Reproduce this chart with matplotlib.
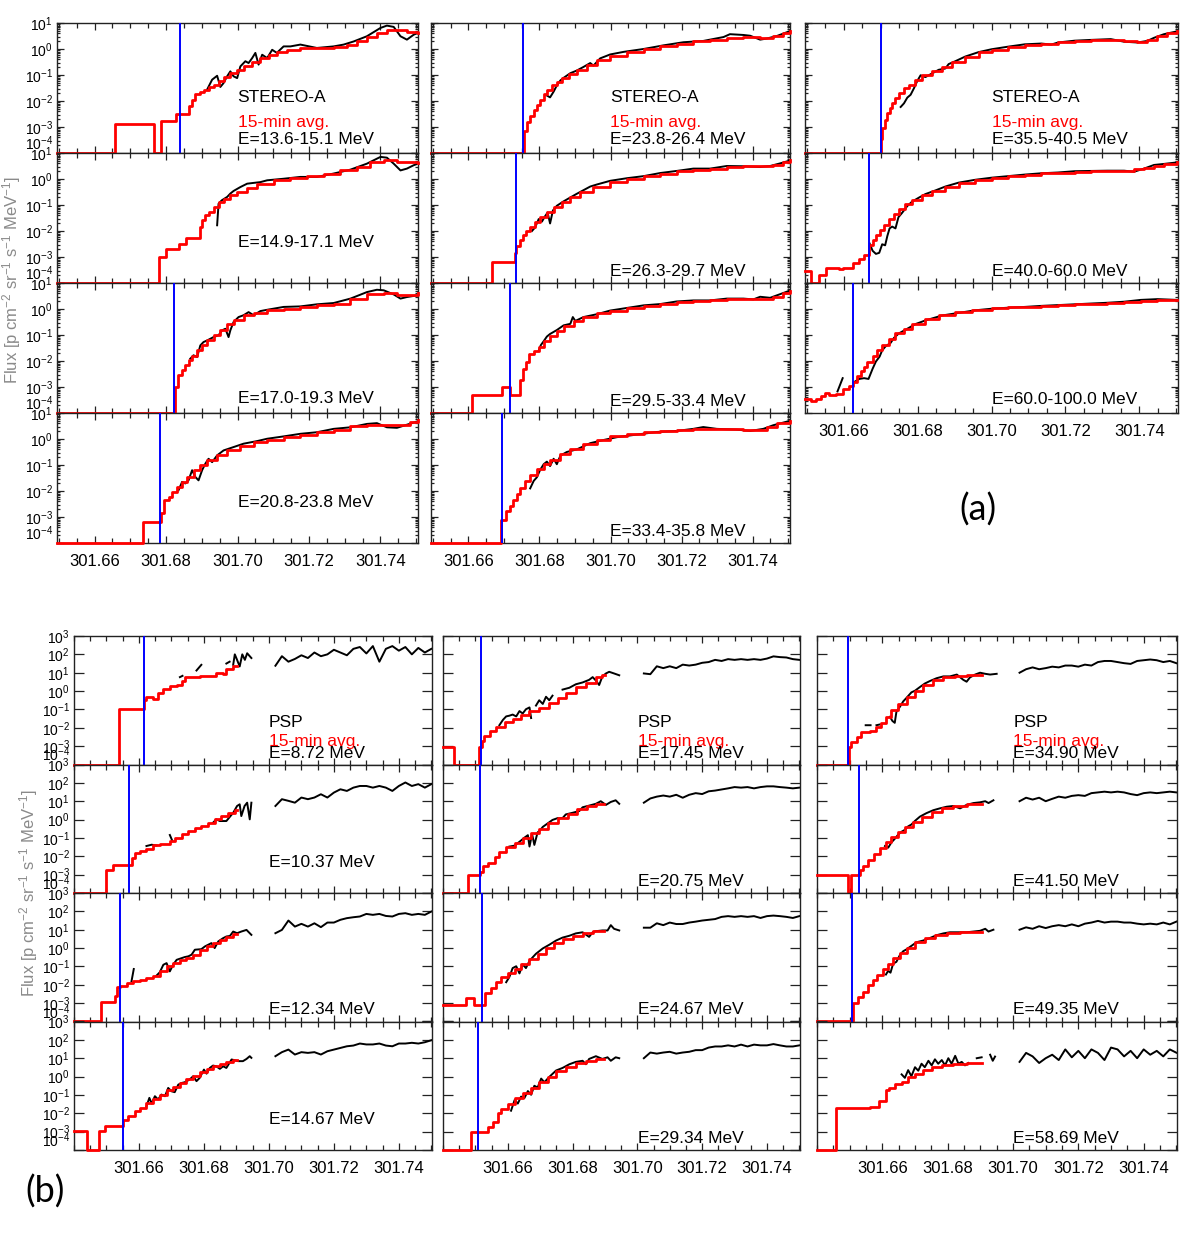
import numpy as np
import matplotlib
matplotlib.use("Agg")
import matplotlib.pyplot as plt
from matplotlib.ticker import (FixedLocator, MultipleLocator, FormatStrFormatter,
                               NullLocator, LogLocator, LogFormatterSciNotation)

plt.rcParams['font.family'] = ['Liberation Sans', 'DejaVu Sans']
plt.rcParams['mathtext.fontset'] = 'custom'
plt.rcParams['mathtext.rm'] = 'Liberation Sans'
plt.rcParams['mathtext.it'] = 'Liberation Sans:italic'
plt.rcParams['mathtext.bf'] = 'Liberation Sans:bold'

nan = np.nan

##################################################
# STEREO-A panels (a): time in DOY, flux as log10
##################################################
sta1_red_t = [301.6495, 301.6658, 301.6765, 301.6787, 301.6828, 301.6865, 301.6873, 301.6882, 301.6894, 301.6907, 301.6921, 301.6935, 301.6949, 301.6963, 301.6980, 301.6999, 301.7017, 301.7041, 301.7064, 301.7087, 301.7111, 301.7139, 301.7176, 301.7222, 301.7269, 301.7306, 301.7334, 301.7362, 301.7390, 301.7418, 301.7446, 301.7474, 301.7505]
sta1_red_v = [-4, -2.87, -4, -2.78, -2.5, -2.2, -1.95, -1.73, -1.65, -1.56, -1.46, -1.37, -1.22, -1.08, -0.92, -0.8, -0.67, -0.5, -0.35, -0.22, -0.12, -0.04, 0.03, 0.05, 0.08, 0.15, 0.3, 0.45, 0.62, 0.74, 0.72, 0.66, 0.62]
sta1_blk_t = [301.6915, 301.6929, 301.6943, 301.6952, 301.6961, 301.6971, 301.6980, 301.6989, 301.6999, 301.7008, 301.7022, 301.7031, 301.7041, 301.7050, 301.7059, 301.7069, 301.7083, 301.7097, 301.7110, 301.7129, 301.7148, 301.7176, 301.7222, 301.7269, 301.7297, 301.7325, 301.7362, 301.7400, 301.7418, 301.7437, 301.7456, 301.7474, 301.7493, 301.7505]
sta1_blk_v = [-1.56, -1.18, -1.03, -1.46, -1.31, -1.05, -0.86, -1.05, -1.12, -0.67, -0.47, -0.54, -0.35, -0.15, -0.6, -0.22, -0.35, -0.03, -0.15, 0.1, 0.1, 0.17, 0.04, 0.1, 0.17, 0.29, 0.49, 0.81, 0.9, 0.85, 0.49, 0.36, 0.55, 0.62]

sta2_red_t = [301.6495, 301.6779, 301.6800, 301.6835, 301.6855, 301.6894, 301.6902, 301.6910, 301.6919, 301.6933, 301.6947, 301.6961, 301.6980, 301.6999, 301.7027, 301.7055, 301.7101, 301.7148, 301.7194, 301.7241, 301.7288, 301.7334, 301.7372, 301.7409, 301.7446, 301.7505]
sta2_red_v = [-4, -3.0, -2.68, -2.51, -2.26, -1.85, -1.59, -1.4, -1.27, -1.08, -0.88, -0.76, -0.63, -0.5, -0.33, -0.18, -0.05, 0.05, 0.1, 0.21, 0.33, 0.46, 0.65, 0.74, 0.65, 0.63]
sta2_blk_t = [301.6943, 301.6947, 301.6956, 301.6971, 301.6980, 301.6989, 301.7008, 301.7027, 301.7045, 301.7064, 301.7083, 301.7129, 301.7176, 301.7222, 301.7269, 301.7316, 301.7362, 301.7400, 301.7418, 301.7437, 301.7456, 301.7474, 301.7493, 301.7505]
sta2_blk_v = [-1.78, -0.95, -0.82, -0.69, -0.56, -0.46, -0.31, -0.18, -0.15, -0.12, -0.05, 0.01, 0.08, 0.08, 0.21, 0.36, 0.59, 0.85, 0.82, 0.59, 0.33, 0.4, 0.53, 0.59]

sta3_red_t = [301.6495, 301.6826, 301.6834, 301.6845, 301.6854, 301.6863, 301.6873, 301.6887, 301.6901, 301.6915, 301.6933, 301.6952, 301.6971, 301.6989, 301.7017, 301.7045, 301.7083, 301.7129, 301.7176, 301.7222, 301.7269, 301.7316, 301.7362, 301.7409, 301.7446, 301.7505]
sta3_red_v = [-4, -3.0, -2.55, -2.36, -2.17, -1.97, -1.82, -1.59, -1.4, -1.2, -1.01, -0.82, -0.56, -0.41, -0.24, -0.14, -0.05, 0.01, 0.08, 0.14, 0.2, 0.4, 0.59, 0.63, 0.53, 0.62]
sta3_blk_t = [301.6868, 301.6877, 301.6887, 301.6896, 301.6905, 301.6915, 301.6933, 301.6947, 301.6957, 301.6966, 301.6975, 301.6980, 301.6989, 301.7003, 301.7017, 301.7031, 301.7045, 301.7064, 301.7083, 301.7129, 301.7176, 301.7222, 301.7269, 301.7316, 301.7362, 301.7390, 301.7409, 301.7437, 301.7456, 301.7474, 301.7505]
sta3_blk_v = [-1.91, -1.78, -1.85, -1.4, -1.27, -1.21, -1.08, -1.01, -0.82, -0.76, -1.08, -0.82, -0.5, -0.31, -0.24, -0.12, -0.24, -0.08, -0.03, 0.08, 0.1, 0.18, 0.23, 0.4, 0.65, 0.74, 0.72, 0.56, 0.4, 0.46, 0.53]

sta4_red_t = [301.6495, 301.6737, 301.6786, 301.6795, 301.6807, 301.6817, 301.6831, 301.6845, 301.6859, 301.6877, 301.6896, 301.6915, 301.6943, 301.6971, 301.7008, 301.7045, 301.7083, 301.7129, 301.7176, 301.7222, 301.7269, 301.7316, 301.7362, 301.7409, 301.7456, 301.7484, 301.7505]
sta4_red_v = [-4, -3.18, -2.86, -2.35, -2.22, -2.03, -1.84, -1.65, -1.46, -1.2, -1.01, -0.82, -0.63, -0.44, -0.25, -0.12, -0.03, 0.07, 0.17, 0.26, 0.36, 0.49, 0.55, 0.52, 0.52, 0.64, 0.73]
sta4_blk_t = [301.6835, 301.6845, 301.6854, 301.6863, 301.6873, 301.6882, 301.6891, 301.6901, 301.6910, 301.6919, 301.6929, 301.6943, 301.6961, 301.6989, 301.7017, 301.7055, 301.7083, 301.7129, 301.7176, 301.7222, 301.7269, 301.7316, 301.7362, 301.7390, 301.7418, 301.7446, 301.7474, 301.7505]
sta4_blk_v = [-1.97, -1.65, -1.71, -1.59, -1.2, -1.46, -1.59, -1.2, -0.95, -0.76, -0.89, -0.63, -0.44, -0.31, -0.18, -0.08, 0.01, 0.1, 0.2, 0.26, 0.39, 0.45, 0.58, 0.61, 0.45, 0.43, 0.55, 0.68]

sta5_red_t = [301.6495, 301.6757, 301.6765, 301.6774, 301.6784, 301.6793, 301.6802, 301.6812, 301.6821, 301.6835, 301.6849, 301.6863, 301.6882, 301.6905, 301.6933, 301.6962, 301.6999, 301.7046, 301.7093, 301.7140, 301.7186, 301.7233, 301.7280, 301.7327, 301.7374, 301.7421, 301.7458, 301.7486, 301.7505]
sta5_red_v = [-4, -3.14, -2.79, -2.57, -2.36, -2.14, -1.97, -1.74, -1.57, -1.4, -1.26, -1.11, -0.97, -0.79, -0.61, -0.43, -0.26, -0.11, 0.0, 0.1, 0.21, 0.29, 0.36, 0.43, 0.46, 0.43, 0.5, 0.6, 0.71]
sta5_blk_t = [301.6821, 301.6830, 301.6840, 301.6849, 301.6859, 301.6868, 301.6887, 301.6905, 301.6924, 301.6943, 301.6952, 301.6971, 301.6999, 301.7037, 301.7093, 301.7149, 301.7205, 301.7261, 301.7318, 301.7336, 301.7374, 301.7393, 301.7421, 301.7439, 301.7468, 301.7505]
sta5_blk_v = [-1.79, -1.86, -1.64, -1.4, -1.21, -1.11, -0.93, -0.83, -0.69, -0.54, -0.64, -0.36, -0.21, -0.11, 0.0, 0.14, 0.26, 0.31, 0.46, 0.57, 0.54, 0.51, 0.36, 0.4, 0.5, 0.69]

sta6_red_t = [301.6495, 301.6666, 301.6730, 301.6735, 301.6744, 301.6754, 301.6763, 301.6774, 301.6788, 301.6802, 301.6821, 301.6840, 301.6863, 301.6887, 301.6915, 301.6952, 301.6999, 301.7046, 301.7093, 301.7140, 301.7186, 301.7233, 301.7280, 301.7327, 301.7374, 301.7458, 301.7486, 301.7505]
sta6_red_v = [-4, -3.21, -2.86, -2.57, -2.36, -2.17, -2.0, -1.83, -1.64, -1.46, -1.26, -1.07, -0.9, -0.71, -0.5, -0.31, -0.11, 0.0, 0.11, 0.21, 0.29, 0.34, 0.4, 0.46, 0.5, 0.54, 0.64, 0.74]
sta6_blk_t = [301.6779, 301.6788, 301.6798, 301.6807, 301.6816, 301.6823, 301.6830, 301.6838, 301.6849, 301.6868, 301.6887, 301.6905, 301.6924, 301.6943, 301.6962, 301.6999, 301.7046, 301.7093, 301.7140, 301.7186, 301.7233, 301.7280, 301.7327, 301.7374, 301.7421, 301.7449, 301.7477, 301.7505]
sta6_blk_v = [-2.0, -1.86, -1.54, -1.64, -1.43, -1.29, -1.71, -1.21, -1.03, -0.86, -0.71, -0.57, -0.43, -0.29, -0.21, -0.07, 0.03, 0.11, 0.23, 0.31, 0.4, 0.4, 0.5, 0.49, 0.46, 0.5, 0.6, 0.71]

sta7_red_t = [301.6495, 301.6610, 301.6695, 301.6716, 301.6744, 301.6754, 301.6763, 301.6770, 301.6784, 301.6798, 301.6812, 301.6830, 301.6849, 301.6868, 301.6896, 301.6924, 301.6962, 301.6999, 301.7046, 301.7093, 301.7140, 301.7186, 301.7233, 301.7280, 301.7327, 301.7374, 301.7458, 301.7486, 301.7505]
sta7_red_v = [-4, -3.31, -3.0, -3.29, -2.74, -2.31, -2.03, -1.74, -1.6, -1.46, -1.24, -1.03, -0.86, -0.67, -0.46, -0.31, -0.17, -0.06, 0.03, 0.11, 0.19, 0.26, 0.29, 0.33, 0.37, 0.4, 0.47, 0.61, 0.71]
sta7_blk_t = [301.6798, 301.6804, 301.6812, 301.6821, 301.6830, 301.6849, 301.6868, 301.6887, 301.6894, 301.6901, 301.6924, 301.6962, 301.6999, 301.7046, 301.7093, 301.7140, 301.7186, 301.7233, 301.7280, 301.7327, 301.7374, 301.7402, 301.7421, 301.7449, 301.7477, 301.7505]
sta7_blk_v = [-1.6, -1.39, -1.24, -1.06, -0.96, -0.81, -0.63, -0.57, -0.31, -0.46, -0.31, -0.2, -0.06, 0.04, 0.14, 0.19, 0.29, 0.33, 0.33, 0.4, 0.4, 0.37, 0.47, 0.43, 0.57, 0.71]

sta8_red_t = [301.6495, 301.6693, 301.6707, 301.6718, 301.6727, 301.6737, 301.6746, 301.6760, 301.6774, 301.6793, 301.6812, 301.6830, 301.6859, 301.6887, 301.6924, 301.6962, 301.6999, 301.7046, 301.7093, 301.7140, 301.7186, 301.7233, 301.7374, 301.7439, 301.7468, 301.7505]
sta8_red_v = [-4, -3.11, -2.76, -2.59, -2.33, -2.11, -1.87, -1.61, -1.4, -1.16, -0.97, -0.79, -0.59, -0.4, -0.19, -0.04, 0.1, 0.21, 0.27, 0.31, 0.34, 0.39, 0.36, 0.46, 0.6, 0.7]
sta8_blk_t = [301.6774, 301.6784, 301.6793, 301.6802, 301.6812, 301.6821, 301.6830, 301.6840, 301.6849, 301.6859, 301.6877, 301.6905, 301.6943, 301.6980, 301.7018, 301.7074, 301.7130, 301.7186, 301.7233, 301.7261, 301.7299, 301.7355, 301.7393, 301.7430, 301.7458, 301.7505]
sta8_blk_v = [-1.9, -1.61, -1.47, -1.19, -0.97, -0.87, -1.04, -0.76, -0.97, -0.64, -0.5, -0.4, -0.16, -0.04, 0.07, 0.17, 0.27, 0.31, 0.39, 0.46, 0.39, 0.36, 0.31, 0.39, 0.53, 0.7]

sta9_red_t = [301.6495, 301.6700, 301.6704, 301.6712, 301.6718, 301.6724, 301.6731, 301.6740, 301.6749, 301.6763, 301.6776, 301.6794, 301.6812, 301.6839, 301.6866, 301.6893, 301.6929, 301.6965, 301.7000, 301.7045, 301.7090, 301.7135, 301.7180, 301.7225, 301.7269, 301.7359, 301.7395, 301.7422, 301.7449, 301.7476, 301.7503]
sta9_red_v = [-4, -3.45, -3.02, -2.74, -2.45, -2.28, -2.09, -1.9, -1.7, -1.51, -1.37, -1.18, -1.01, -0.84, -0.7, -0.51, -0.29, -0.12, -0.03, 0.07, 0.17, 0.21, 0.28, 0.31, 0.35, 0.31, 0.28, 0.35, 0.5, 0.6, 0.68]
sta9_blk_t = [301.6754, 301.6763, 301.6772, 301.6781, 301.6790, 301.6799, 301.6808, 301.6821, 301.6839, 301.6857, 301.6875, 301.6884, 301.6902, 301.6929, 301.6965, 301.7000, 301.7045, 301.7090, 301.7135, 301.7162, 301.7180, 301.7225, 301.7269, 301.7323, 301.7359, 301.7395, 301.7422, 301.7440, 301.7467, 301.7503]
sta9_blk_v = [-2.23, -2.09, -1.87, -1.76, -1.51, -1.23, -1.01, -1.08, -0.94, -0.8, -0.75, -0.58, -0.47, -0.29, -0.12, -0.01, 0.09, 0.18, 0.21, 0.17, 0.25, 0.32, 0.35, 0.38, 0.28, 0.25, 0.31, 0.43, 0.57, 0.68]

sta10_red_t = [301.6495, 301.6512, 301.6534, 301.6552, 301.6588, 301.6597, 301.6624, 301.6642, 301.6655, 301.6667, 301.6678, 301.6687, 301.6697, 301.6709, 301.6722, 301.6736, 301.6749, 301.6767, 301.6785, 301.6812, 301.6839, 301.6875, 301.6911, 301.6956, 301.7000, 301.7045, 301.7090, 301.7135, 301.7180, 301.7225, 301.7269, 301.7314, 301.7386, 301.7413, 301.7440, 301.7467, 301.7503]
sta10_red_v = [-3.55, -4, -3.7, -3.41, -3.48, -3.41, -3.22, -3.08, -2.91, -2.55, -2.33, -2.16, -1.97, -1.76, -1.54, -1.33, -1.16, -0.97, -0.82, -0.61, -0.47, -0.29, -0.15, -0.03, 0.04, 0.11, 0.17, 0.22, 0.25, 0.28, 0.31, 0.32, 0.37, 0.43, 0.51, 0.57, 0.64]
sta10_blk_t = [301.6670, 301.6678, 301.6687, 301.6696, 301.6704, 301.6712, 301.6718, 301.6724, 301.6731, 301.6740, 301.6748, 301.6758, 301.6772, 301.6785, 301.6803, 301.6821, 301.6848, 301.6875, 301.6911, 301.6956, 301.7000, 301.7045, 301.7090, 301.7135, 301.7180, 301.7225, 301.7269, 301.7314, 301.7359, 301.7386, 301.7413, 301.7440, 301.7467, 301.7503]
sta10_blk_v = [-2.48, -2.76, -2.88, -2.84, -2.51, -2.55, -2.19, -1.9, -1.83, -1.9, -1.47, -1.3, -1.04, -0.87, -0.72, -0.58, -0.44, -0.29, -0.14, -0.03, 0.05, 0.11, 0.17, 0.22, 0.25, 0.3, 0.31, 0.32, 0.32, 0.28, 0.4, 0.54, 0.58, 0.64]

sta11_red_t = [301.6495, 301.6512, 301.6525, 301.6539, 301.6548, 301.6561, 301.6579, 301.6597, 301.6615, 301.6626, 301.6637, 301.6646, 301.6655, 301.6664, 301.6678, 301.6691, 301.6704, 301.6722, 301.6740, 301.6763, 301.6785, 301.6821, 301.6857, 301.6902, 301.6947, 301.7000, 301.7045, 301.7090, 301.7135, 301.7180, 301.7225, 301.7269, 301.7314, 301.7359, 301.7404, 301.7449, 301.7503]
sta11_red_v = [-3.45, -3.53, -3.45, -3.35, -3.24, -3.31, -3.27, -3.09, -2.95, -2.81, -2.59, -2.38, -2.23, -2.02, -1.8, -1.59, -1.37, -1.16, -0.94, -0.77, -0.58, -0.39, -0.25, -0.12, -0.05, 0.02, 0.07, 0.09, 0.12, 0.15, 0.18, 0.21, 0.24, 0.28, 0.32, 0.35, 0.35]
sta11_blk_t = [301.6583, 301.6597, nan, 301.6628, 301.6642, 301.6655, 301.6667, 301.6678, 301.6687, 301.6697, 301.6704, 301.6713, 301.6727, 301.6736, 301.6749, 301.6767, 301.6794, 301.6821, 301.6866, 301.6911, 301.6956, 301.7000, 301.7045, 301.7090, 301.7135, 301.7180, 301.7225, 301.7269, 301.7314, 301.7359, 301.7404, 301.7449, 301.7503]
sta11_blk_v = [-3.17, -2.66, nan, -2.81, -2.69, -2.66, -2.69, -2.3, -2.02, -1.83, -1.59, -1.44, -1.3, -1.11, -0.94, -0.8, -0.58, -0.44, -0.25, -0.15, -0.05, 0.01, 0.05, 0.08, 0.12, 0.15, 0.18, 0.21, 0.24, 0.28, 0.35, 0.38, 0.35]

sta_onset = [301.6838, None, 301.6823, 301.6784, 301.6754, 301.6733, 301.6718, 301.6696, 301.6702, 301.6669, 301.6626]
sta_energy = ['13.6-15.1', '14.9-17.1', '17.0-19.3', '20.8-23.8', '23.8-26.4', '26.3-29.7',
              '29.5-33.4', '33.4-35.8', '35.5-40.5', '40.0-60.0', '60.0-100.0']

##################################################
# PSP panels (b)
##################################################
psp_late_t = np.linspace(301.702, 301.750, 25)

psp1_red_t = [301.6400, 301.6539, 301.6615, 301.6623, 301.6644, 301.6659, 301.6675, 301.6695, 301.6716, 301.6731, 301.6741, 301.6762, 301.6787, 301.6808, 301.6838, 301.6859, 301.6869, 301.6890, 301.6902]
psp1_red_v = [-4, -1.0, -0.47, -0.32, -0.43, -0.1, 0.11, 0.26, 0.35, 0.56, 0.74, 0.76, 0.83, 0.83, 0.98, 0.94, 1.19, 1.34, 1.34]
psp1_blk_t = [301.6726, 301.6734, nan, 301.6777, 301.6792, nan, 301.6869, 301.6879, nan, 301.6890, 301.6895, 301.6902, 301.6910, 301.6918, 301.6926, 301.6933, 301.6941, 301.6946]
psp1_blk_v = [0.76, 0.83, nan, 1.12, 1.43, nan, 1.5, 1.6, nan, 1.43, 2.0, 1.7, 1.34, 2.0, 1.7, 2.06, 1.9, 1.8]
psp1_late_v = [1.38, 1.9, 1.6, 1.75, 1.95, 1.8, 2.1, 1.9, 2.0, 2.25, 2.1, 1.95, 2.3, 2.4, 2.05, 2.45, 1.6, 2.3, 2.45, 2.2, 2.4, 2.0, 2.35, 2.1, 2.3]

psp2_red_t = [301.6400, 301.6500, 301.6521, 301.6570, 301.6577, 301.6587, 301.6603, 301.6623, 301.6644, 301.6664, 301.6695, 301.6710, 301.6731, 301.6751, 301.6772, 301.6792, 301.6813, 301.6833, 301.6854, 301.6874, 301.6895, 301.6902]
psp2_red_v = [-4, -2.76, -2.48, -2.45, -2.08, -1.81, -1.72, -1.63, -1.41, -1.35, -1.17, -0.99, -0.81, -0.62, -0.48, -0.35, -0.17, 0.01, 0.19, 0.37, 0.52, 0.52]
psp2_blk_t = [301.6623, 301.6639, 301.6654, nan, 301.6695, 301.6703, nan, 301.6828, 301.6838, 301.6849, 301.6869, 301.6890, 301.6902, 301.6910, 301.6915, 301.6925, 301.6933, 301.6941, 301.6946]
psp2_blk_v = [-1.44, -1.37, -1.41, nan, -0.84, -1.17, nan, -0.17, 0.01, -0.08, -0.08, 0.37, 0.74, 0.83, 0.19, 0.74, 0.92, 0.01, 0.92]
psp2_late_v = [0.74, 1.11, 1.02, 0.92, 1.2, 1.11, 1.2, 1.38, 1.2, 1.47, 1.65, 1.56, 1.74, 1.83, 1.83, 1.74, 1.83, 1.74, 1.56, 1.83, 2.02, 1.83, 1.93, 1.74, 1.93]

psp3_red_t = [301.6400, 301.6482, 301.6526, 301.6531, 301.6541, 301.6562, 301.6582, 301.6603, 301.6623, 301.6644, 301.6664, 301.6685, 301.6705, 301.6726, 301.6746, 301.6767, 301.6787, 301.6808, 301.6828, 301.6849, 301.6869, 301.6890, 301.6902]
psp3_red_v = [-4, -2.93, -2.61, -2.11, -2.05, -1.9, -1.81, -1.72, -1.63, -1.5, -1.27, -1.0, -0.82, -0.64, -0.55, -0.36, -0.09, 0.09, 0.27, 0.45, 0.63, 0.77, 0.77]
psp3_blk_t = [301.6577, 301.6584, nan, 301.6654, 301.6664, 301.6675, 301.6685, 301.6695, 301.6705, 301.6716, 301.6731, 301.6741, 301.6752, 301.6762, 301.6772, 301.6792, 301.6803, 301.6813, 301.6823, 301.6833, 301.6844, 301.6859, 301.6869, 301.6880, 301.6890, 301.6902, 301.6915, 301.6931, 301.6941, 301.6946]
psp3_blk_v = [-1.81, -1.14, nan, -1.5, -1.32, -0.91, -0.82, -1.27, -0.91, -0.64, -0.55, -0.49, -0.45, -0.36, -0.09, -0.06, 0.09, 0.18, 0.27, 0.0, 0.36, 0.54, 0.63, 0.66, 0.9, 0.81, 0.9, 0.99, 0.81, 0.72]
psp3_late_v = [0.81, 0.99, 1.5, 1.17, 1.32, 1.17, 1.35, 1.14, 1.39, 1.39, 1.54, 1.63, 1.68, 1.72, 1.86, 1.81, 1.86, 1.75, 1.72, 1.86, 1.9, 1.81, 1.86, 1.81, 1.99]

psp4_red_t = [301.6400, 301.6441, 301.6477, 301.6495, 301.6550, 301.6567, 301.6587, 301.6603, 301.6623, 301.6644, 301.6664, 301.6685, 301.6705, 301.6726, 301.6746, 301.6767, 301.6787, 301.6808, 301.6828, 301.6849, 301.6869, 301.6890, 301.6902]
psp4_red_v = [-2.98, -4, -2.98, -2.67, -2.35, -2.16, -1.89, -1.71, -1.44, -1.22, -0.98, -0.75, -0.56, -0.35, -0.13, 0.05, 0.24, 0.42, 0.56, 0.69, 0.8, 0.89, 0.89]
psp4_blk_t = [301.6623, 301.6632, 301.6639, 301.6649, 301.6659, 301.6669, 301.6680, 301.6690, 301.6700, 301.6710, 301.6721, 301.6731, 301.6741, 301.6756, 301.6767, 301.6777, 301.6787, 301.6800, 301.6808, 301.6818, 301.6828, 301.6838, 301.6849, 301.6859, 301.6869, 301.6885, 301.6895, 301.6905, 301.6920, 301.6931, 301.6941, 301.6946]
psp4_blk_v = [-1.62, -1.16, -1.47, -1.07, -1.25, -0.98, -1.07, -0.62, -0.8, -0.85, -0.44, -0.35, -0.31, -0.16, 0.02, -0.25, -0.07, 0.38, 0.16, 0.47, 0.6, 0.56, 0.42, 0.56, 0.47, 0.93, 0.89, 0.84, 0.84, 0.96, 1.11, 1.02]
psp4_late_v = [1.11, 1.33, 1.47, 1.2, 1.33, 1.29, 1.33, 1.2, 1.38, 1.47, 1.56, 1.65, 1.69, 1.8, 1.75, 1.75, 1.8, 1.69, 1.65, 1.8, 1.8, 1.84, 1.8, 1.87, 1.98]

psp5_red_t = [301.6400, 301.6433, 301.6511, 301.6520, 301.6528, 301.6544, 301.6564, 301.6590, 301.6615, 301.6641, 301.6667, 301.6697, 301.6728, 301.6754, 301.6779, 301.6810, 301.6841, 301.6872, 301.6890, 301.6900]
psp5_red_v = [-3.03, -4, -3.03, -2.74, -2.45, -2.16, -1.96, -1.7, -1.5, -1.3, -1.1, -0.9, -0.65, -0.4, -0.1, 0.2, 0.45, 0.76, 0.86, 0.86]
psp5_blk_t = [301.6574, 301.6585, 301.6595, 301.6605, 301.6615, 301.6626, 301.6636, 301.6646, 301.6656, 301.6667, 301.6672, nan, 301.6687, 301.6697, 301.6708, 301.6718, 301.6728, 301.6738, nan, 301.6769, 301.6790, 301.6810, 301.6831, 301.6851, 301.6862, 301.6872, 301.6882, 301.6892, 301.6903, 301.6913, 301.6928, 301.6944]
psp5_blk_v = [-1.86, -1.57, -1.38, -1.34, -1.28, -1.38, -1.09, -1.22, -0.99, -0.89, -1.47, nan, -0.79, -0.5, -0.7, -0.31, -0.5, -0.25, nan, 0.08, 0.18, 0.37, 0.47, 0.61, 0.76, 0.57, 0.33, 0.8, 0.96, 1.05, 0.96, 0.86]
psp5_late_v = [0.96, 0.92, 1.35, 1.25, 1.35, 1.25, 1.44, 1.39, 1.44, 1.54, 1.58, 1.7, 1.64, 1.74, 1.7, 1.74, 1.7, 1.74, 1.7, 1.77, 1.89, 1.85, 1.83, 1.74, 1.7]

psp6_red_t = [301.6400, 301.6477, 301.6513, 301.6523, 301.6538, 301.6559, 301.6574, 301.6595, 301.6621, 301.6646, 301.6672, 301.6697, 301.6723, 301.6754, 301.6785, 301.6815, 301.6846, 301.6872, 301.6897]
psp6_red_v = [-4, -3.03, -2.84, -2.54, -2.35, -2.06, -1.77, -1.47, -1.28, -1.03, -0.75, -0.5, -0.21, 0.08, 0.33, 0.57, 0.76, 0.86, 0.86]
psp6_blk_t = [301.6605, 301.6621, 301.6631, 301.6641, 301.6651, 301.6662, 301.6667, 301.6675, 301.6682, 301.6692, 301.6699, 301.6708, 301.6723, 301.6738, 301.6754, 301.6769, 301.6779, 301.6800, 301.6821, 301.6831, 301.6851, 301.6872, 301.6887, 301.6903, 301.6918, 301.6933, 301.6944]
psp6_blk_v = [-1.47, -1.42, -1.28, -1.14, -0.99, -0.85, -1.47, -0.79, -1.38, -0.7, -0.6, -0.4, -0.21, -0.02, 0.08, 0.08, 0.28, 0.37, 0.47, 0.67, 0.76, 0.86, 1.0, 0.8, 0.96, 1.05, 0.86]
psp6_late_v = [0.92, 1.15, 1.25, 1.31, 1.25, 1.35, 1.19, 1.35, 1.44, 1.39, 1.54, 1.58, 1.64, 1.7, 1.77, 1.74, 1.77, 1.7, 1.77, 1.81, 1.81, 1.77, 1.74, 1.7, 1.74]

psp7_red_t = [301.6400, 301.6470, 301.6497, 301.6531, 301.6549, 301.6564, 301.6579, 301.6600, 301.6621, 301.6641, 301.6667, 301.6692, 301.6718, 301.6744, 301.6769, 301.6800, 301.6831, 301.6862, 301.6897]
psp7_red_v = [-3.09, -2.74, -3.09, -2.45, -2.16, -1.86, -1.57, -1.38, -1.14, -0.89, -0.6, -0.31, -0.02, 0.28, 0.51, 0.67, 0.82, 0.92, 0.92]
psp7_blk_t = [301.6595, 301.6605, 301.6615, 301.6626, 301.6636, 301.6646, 301.6656, 301.6667, 301.6677, 301.6687, 301.6708, 301.6728, 301.6749, 301.6769, 301.6790, 301.6810, 301.6831, 301.6851, 301.6862, 301.6872, 301.6892, 301.6908, 301.6918, 301.6928, 301.6944]
psp7_blk_v = [-1.86, -1.57, -1.09, -0.99, -1.38, -0.89, -1.09, -0.7, -0.5, -0.31, -0.02, 0.18, 0.41, 0.57, 0.67, 0.8, 0.86, 0.61, 0.86, 0.92, 0.96, 0.96, 1.25, 1.05, 0.96]
psp7_late_v = [1.11, 1.11, 1.35, 1.25, 1.39, 1.31, 1.31, 1.39, 1.44, 1.5, 1.54, 1.58, 1.7, 1.74, 1.7, 1.74, 1.7, 1.74, 1.64, 1.74, 1.77, 1.74, 1.7, 1.64, 1.74]

psp8_red_t = [301.6400, 301.6487, 301.6538, 301.6554, 301.6569, 301.6579, 301.6600, 301.6621, 301.6646, 301.6672, 301.6697, 301.6723, 301.6749, 301.6779, 301.6810, 301.6841, 301.6872, 301.6897]
psp8_red_v = [-4, -3.03, -2.74, -2.45, -1.96, -1.77, -1.47, -1.18, -0.89, -0.6, -0.31, -0.02, 0.28, 0.53, 0.76, 0.86, 0.96, 0.96]
psp8_blk_t = [301.6610, 301.6621, 301.6631, 301.6641, 301.6651, 301.6662, 301.6672, 301.6682, 301.6692, 301.6703, 301.6713, 301.6728, 301.6749, 301.6769, 301.6790, 301.6810, 301.6831, 301.6841, 301.6851, 301.6872, 301.6892, 301.6908, 301.6918, 301.6933, 301.6944]
psp8_blk_v = [-1.86, -1.28, -1.47, -1.09, -1.18, -0.79, -0.99, -0.5, -0.6, -0.11, -0.31, -0.02, 0.33, 0.47, 0.67, 0.8, 0.86, 0.67, 0.96, 1.11, 0.96, 1.05, 0.86, 1.05, 1.0]
psp8_late_v = [1.0, 1.31, 1.25, 1.31, 1.35, 1.25, 1.31, 1.35, 1.44, 1.44, 1.58, 1.64, 1.64, 1.7, 1.64, 1.74, 1.64, 1.74, 1.7, 1.7, 1.77, 1.7, 1.64, 1.64, 1.7]

psp9_red_t = [301.6400, 301.6498, 301.6505, 301.6521, 301.6536, 301.6562, 301.6582, 301.6597, 301.6611, 301.6628, 301.6649, 301.6674, 301.6700, 301.6725, 301.6756, 301.6787, 301.6822, 301.6858, 301.6904]
psp9_red_v = [-4, -3.03, -2.76, -2.51, -2.25, -2.18, -1.98, -1.73, -1.4, -1.05, -0.7, -0.31, 0.02, 0.35, 0.61, 0.74, 0.8, 0.9, 0.9]
psp9_blk_t = [301.6549, 301.6564, nan, 301.6582, 301.6592, nan, 301.6623, 301.6631, 301.6638, 301.6643, 301.6654, 301.6664, 301.6674, 301.6689, 301.6700, 301.6715, 301.6730, 301.6746, 301.6766, 301.6787, 301.6807, 301.6828, 301.6848, 301.6858, 301.6868, 301.6884, 301.6899, 301.6915, 301.6930, 301.6950]
psp9_blk_v = [-1.86, -1.86, nan, -1.86, -1.82, nan, -1.4, -1.63, -1.73, -1.14, -0.85, -0.56, -0.37, -0.07, 0.02, 0.22, 0.41, 0.55, 0.7, 0.8, 0.8, 0.9, 0.61, 0.51, 0.74, 0.9, 1.0, 0.94, 0.9, 0.94]
psp9_late_v = [1.0, 1.19, 1.29, 1.19, 1.25, 1.33, 1.29, 1.39, 1.39, 1.33, 1.44, 1.39, 1.58, 1.64, 1.64, 1.58, 1.52, 1.48, 1.64, 1.68, 1.72, 1.68, 1.58, 1.64, 1.52]

psp10_red_t = [301.6400, 301.6495, 301.6505, 301.6531, 301.6541, 301.6556, 301.6574, 301.6592, 301.6611, 301.6628, 301.6649, 301.6669, 301.6695, 301.6720, 301.6751, 301.6782, 301.6817, 301.6858, 301.6904]
psp10_red_v = [-3.03, -4, -3.03, -2.76, -2.51, -2.18, -1.86, -1.53, -1.24, -0.95, -0.66, -0.42, -0.11, 0.16, 0.41, 0.61, 0.74, 0.86, 0.86]
psp10_blk_t = [301.6608, 301.6618, 301.6628, 301.6638, 301.6649, 301.6659, 301.6669, 301.6679, 301.6689, 301.6700, 301.6715, 301.6735, 301.6756, 301.6776, 301.6797, 301.6817, 301.6838, 301.6858, 301.6879, 301.6899, 301.6915, 301.6925, 301.6940]
psp10_blk_v = [-1.44, -1.53, -1.24, -1.05, -0.81, -0.66, -0.56, -0.37, -0.27, -0.07, 0.16, 0.35, 0.51, 0.61, 0.7, 0.74, 0.61, 0.8, 0.9, 0.94, 1.0, 0.9, 1.05]
psp10_late_v = [1.0, 1.19, 1.09, 1.19, 1.0, 1.13, 1.25, 1.19, 1.29, 1.33, 1.29, 1.44, 1.48, 1.52, 1.48, 1.52, 1.48, 1.39, 1.33, 1.44, 1.48, 1.44, 1.48, 1.52, 1.48]

psp11_red_t = [301.6400, 301.6510, 301.6526, 301.6541, 301.6556, 301.6570, 301.6584, 301.6603, 301.6618, 301.6633, 301.6654, 301.6674, 301.6700, 301.6730, 301.6761, 301.6797, 301.6838, 301.6904]
psp11_red_v = [-4, -3.0, -2.64, -2.41, -2.02, -1.73, -1.44, -1.14, -0.85, -0.56, -0.27, 0.02, 0.32, 0.55, 0.7, 0.8, 0.86, 0.86]
psp11_blk_t = [301.6611, 301.6618, 301.6625, 301.6633, 301.6643, 301.6654, 301.6664, 301.6674, 301.6689, 301.6705, 301.6725, 301.6746, 301.6766, 301.6787, 301.6807, 301.6838, 301.6858, 301.6879, 301.6899, 301.6915, 301.6925, 301.6940]
psp11_blk_v = [-1.44, -1.24, -1.34, -0.85, -0.75, -0.37, -0.17, -0.07, 0.12, 0.32, 0.41, 0.55, 0.7, 0.8, 0.86, 0.86, 0.86, 0.9, 0.94, 1.05, 0.9, 1.0]
psp11_late_v = [1.0, 1.13, 1.05, 1.19, 1.09, 1.19, 1.25, 1.19, 1.29, 1.19, 1.33, 1.39, 1.48, 1.39, 1.44, 1.44, 1.39, 1.39, 1.33, 1.29, 1.33, 1.29, 1.39, 1.29, 1.44]

psp12_red_t = [301.6400, 301.6457, 301.6562, 301.6590, 301.6611, 301.6621, 301.6638, 301.6659, 301.6679, 301.6700, 301.6725, 301.6751, 301.6782, 301.6817, 301.6858, 301.6904]
psp12_red_v = [-4, -1.73, -1.67, -1.34, -0.75, -0.62, -0.42, -0.27, -0.04, 0.16, 0.35, 0.51, 0.61, 0.7, 0.74, 0.74]
psp12_blk_t = [301.6659, 301.6669, 301.6679, 301.6689, 301.6700, 301.6710, 301.6720, 301.6730, 301.6741, 301.6751, 301.6761, 301.6771, 301.6782, 301.6792, 301.6802, 301.6812, 301.6823, 301.6833, 301.6843, 301.6853, 301.6863, nan, 301.6889, 301.6904, nan, 301.6930, 301.6938, 301.6945]
psp12_blk_v = [0.12, -0.07, 0.35, 0.02, 0.51, 0.32, 0.7, 0.51, 0.86, 0.61, 0.94, 0.7, 0.9, 0.61, 1.0, 0.7, 1.13, 0.7, 0.8, 0.61, 0.74, nan, 1.0, 1.05, nan, 1.19, 0.86, 1.09]
psp12_late_v = [0.8, 1.29, 1.1, 0.74, 1.0, 1.19, 0.9, 1.48, 1.05, 1.4, 1.0, 1.48, 1.29, 0.9, 1.58, 1.48, 1.1, 1.4, 1.0, 1.48, 1.19, 1.4, 1.1, 1.48, 1.3]

psp_onset = [301.6617, 301.6569, 301.6541, 301.6550, 301.6518, 301.6513, 301.6520, 301.6508,
             301.6496, 301.6529, 301.6508, None]
psp_energy = ['8.72', '10.37', '12.34', '14.67', '17.45', '20.75', '24.67', '29.34',
              '34.90', '41.50', '49.35', '58.69']

time_ticks = [301.66, 301.68, 301.70, 301.72, 301.74]
##################################################


sta_panels = [
    (sta1_red_t, sta1_red_v, sta1_blk_t, sta1_blk_v),
    (sta2_red_t, sta2_red_v, sta2_blk_t, sta2_blk_v),
    (sta3_red_t, sta3_red_v, sta3_blk_t, sta3_blk_v),
    (sta4_red_t, sta4_red_v, sta4_blk_t, sta4_blk_v),
    (sta5_red_t, sta5_red_v, sta5_blk_t, sta5_blk_v),
    (sta6_red_t, sta6_red_v, sta6_blk_t, sta6_blk_v),
    (sta7_red_t, sta7_red_v, sta7_blk_t, sta7_blk_v),
    (sta8_red_t, sta8_red_v, sta8_blk_t, sta8_blk_v),
    (sta9_red_t, sta9_red_v, sta9_blk_t, sta9_blk_v),
    (sta10_red_t, sta10_red_v, sta10_blk_t, sta10_blk_v),
    (sta11_red_t, sta11_red_v, sta11_blk_t, sta11_blk_v),
]
psp_panels = [
    (psp1_red_t, psp1_red_v, psp1_blk_t, psp1_blk_v, psp1_late_v),
    (psp2_red_t, psp2_red_v, psp2_blk_t, psp2_blk_v, psp2_late_v),
    (psp3_red_t, psp3_red_v, psp3_blk_t, psp3_blk_v, psp3_late_v),
    (psp4_red_t, psp4_red_v, psp4_blk_t, psp4_blk_v, psp4_late_v),
    (psp5_red_t, psp5_red_v, psp5_blk_t, psp5_blk_v, psp5_late_v),
    (psp6_red_t, psp6_red_v, psp6_blk_t, psp6_blk_v, psp6_late_v),
    (psp7_red_t, psp7_red_v, psp7_blk_t, psp7_blk_v, psp7_late_v),
    (psp8_red_t, psp8_red_v, psp8_blk_t, psp8_blk_v, psp8_late_v),
    (psp9_red_t, psp9_red_v, psp9_blk_t, psp9_blk_v, psp9_late_v),
    (psp10_red_t, psp10_red_v, psp10_blk_t, psp10_blk_v, psp10_late_v),
    (psp11_red_t, psp11_red_v, psp11_blk_t, psp11_blk_v, psp11_late_v),
    (psp12_red_t, psp12_red_v, psp12_blk_t, psp12_blk_v, psp12_late_v),
]

# layout (pixels of the 1200x1240 picture)
W, H = 1200, 1240
sta_col_left = [57, 431, 805]
sta_col_width = [361, 359, 373]
sta_rows = [4, 4, 3]
sta_top, sta_rowh = 23, 130
psp_col_left = [74, 443, 817]
psp_col_width = [358, 357, 360]
psp_top, psp_rowh = 636, 128.5

sta_label_y = [0.105, 0.31, 0.11, 0.31, 0.105, 0.09, 0.09, 0.085, 0.105, 0.09, 0.1]
psp_label_y = [0.085, 0.24, 0.09, 0.24, 0.085, 0.09, 0.09, 0.09, 0.085, 0.09, 0.09, 0.09]
TXT = 12.5


def px_rect(left, top, width, height):
    return [left / W, 1 - (top + height) / H, width / W, height / H]


def style_axis(ax, ylo, yhi, xlo, xhi, minor_y, bottom_row, left_col, ymaj_len):
    ax.set_yscale('log')
    ax.set_xlim(xlo, xhi)
    ax.set_ylim(10.0 ** ylo, 10.0 ** yhi)
    ax.yaxis.set_major_locator(FixedLocator(10.0 ** np.arange(ylo, yhi + 1)))
    ax.yaxis.set_major_formatter(LogFormatterSciNotation())
    if minor_y:
        ax.yaxis.set_minor_locator(LogLocator(base=10, subs=np.arange(2, 10), numticks=100))
    else:
        ax.yaxis.set_minor_locator(NullLocator())
    ax.xaxis.set_major_locator(FixedLocator(time_ticks))
    ax.xaxis.set_minor_locator(MultipleLocator(0.005))
    ax.xaxis.set_major_formatter(FormatStrFormatter('%.2f'))
    ax.tick_params(which='both', direction='in', top=True, right=True, width=0.9, color='#222222')
    ax.tick_params(axis='y', which='major', length=ymaj_len, labelsize=10, pad=3)
    ax.tick_params(axis='y', which='minor', length=2.5)
    ax.tick_params(axis='x', which='major', length=5, labelsize=12, pad=8)
    ax.tick_params(axis='x', which='minor', length=3.5)
    ax.tick_params(axis='x', labelbottom=bottom_row)
    ax.tick_params(axis='y', labelleft=left_col)
    for s in ax.spines.values():
        s.set_linewidth(1.0)
        s.set_color('#222222')
    # lowest decade label sits just above the lower frame line
    ax.yaxis.get_major_ticks()[0].label1.set_verticalalignment('bottom')


def draw(ax, red_t, red_v, blk_t, blk_v, onset):
    ax.plot(blk_t, 10.0 ** np.asarray(blk_v, dtype=float), color='black', lw=1.4, zorder=2)
    ax.plot(red_t, 10.0 ** np.asarray(red_v, dtype=float), color='red', lw=2.0,
            drawstyle='steps-post', zorder=3, clip_on=False)
    if onset is not None:
        ax.axvline(onset, color='blue', lw=1.4, zorder=4)


fig = plt.figure(figsize=(12, 12.4), dpi=100)

#STEREO-A block
k = 0
for c in range(3):
    for r in range(sta_rows[c]):
        ax = fig.add_axes(px_rect(sta_col_left[c], sta_top + r * sta_rowh, sta_col_width[c], sta_rowh))
        red_t, red_v, blk_t, blk_v = sta_panels[k]
        draw(ax, red_t, red_v, blk_t, blk_v, sta_onset[k])
        style_axis(ax, -4, 1, 301.6495, 301.7505, True, r == sta_rows[c] - 1, c == 0, 5)
        if r == 0:
            ax.text(0.5, 0.43, 'STEREO-A', transform=ax.transAxes, fontsize=TXT, va='center')
            ax.text(0.5, 0.235, '15-min avg.', transform=ax.transAxes, fontsize=TXT, va='center', color='red')
        ax.text(0.5, sta_label_y[k], 'E=%s MeV' % sta_energy[k], transform=ax.transAxes,
                fontsize=TXT, va='center')
        k += 1

#PSP block
k = 0
for c in range(3):
    for r in range(4):
        ax = fig.add_axes(px_rect(psp_col_left[c], psp_top + r * psp_rowh, psp_col_width[c], psp_rowh))
        red_t, red_v, blk_t, blk_v, late_v = psp_panels[k]
        bt = np.concatenate([blk_t, [nan], psp_late_t])
        bv = np.concatenate([blk_v, [nan], late_v])
        draw(ax, red_t, red_v, bt, bv, psp_onset[k])
        style_axis(ax, -4, 3, 301.6400, 301.7502, False, r == 3, c == 0, 7)
        if r == 0:
            ax.text(0.545, 0.33, 'PSP', transform=ax.transAxes, fontsize=TXT, va='center')
            ax.text(0.545, 0.18, '15-min avg.', transform=ax.transAxes, fontsize=TXT, va='center', color='red')
        ax.text(0.545, psp_label_y[k], 'E=%s MeV' % psp_energy[k], transform=ax.transAxes,
                fontsize=TXT, va='center')
        k += 1

ylab = 'Flux [p cm$^{-2}$ sr$^{-1}$ s$^{-1}$ MeV$^{-1}$]'
fig.text(0.010, 0.774, ylab, rotation=90, ha='center', va='center', fontsize=12, color='#8a8a8a')
fig.text(0.024, 0.280, ylab, rotation=90, ha='center', va='center', fontsize=12, color='#8a8a8a')

fig.text(0.815, 0.589, '(a)', ha='center', va='center', fontsize=26, family=['Lato', 'DejaVu Sans'])
fig.text(0.0375, 0.039, '(b)', ha='center', va='center', fontsize=26, family=['Lato', 'DejaVu Sans'])

plt.savefig('out.png', dpi=100)
